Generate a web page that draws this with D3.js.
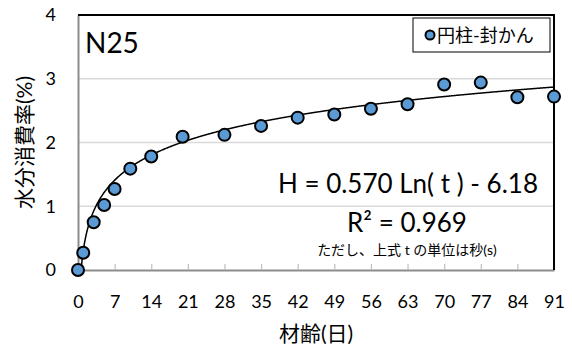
<!DOCTYPE html>
<html>
<head>
<meta charset="utf-8">
<script src="https://cdn.jsdelivr.net/npm/d3@7"></script>
<style>
  body { margin: 0; background: #fff; }
  text { font-family: "Lato", "Noto Sans CJK JP", sans-serif; fill: #000; }
</style>
</head>
<body>
<div id="chart-area"></div>
<script>
// measured points (age in days, water consumption %)
const days = [0, 1, 3, 5, 7, 10, 14, 20, 28, 35, 42, 49, 56, 63, 70, 77, 84, 91];
const values = [0, 0.27, 0.75, 1.02, 1.27, 1.59, 1.78, 2.09, 2.12, 2.26, 2.39, 2.44, 2.53, 2.60, 2.91, 2.94, 2.71, 2.72];
const xTicks = [0, 7, 14, 21, 28, 35, 42, 49, 56, 63, 70, 77, 84, 91];
const yTicks = [0, 1, 2, 3, 4];
// trendline H = a ln(t) + b, t in seconds
const fitA = 0.570, fitB = -6.18;
const seriesName = '円柱-封かん';

const svg = d3.select("#chart-area").append("svg")
    .attr("width", 572)
    .attr("height", 349);

const margin = { top: 15, right: 18, bottom: 79, left: 78 };
const width = 572 - margin.left - margin.right,
    height = 349 - margin.top - margin.bottom;

const g = svg.append("g")
    .attr("transform", `translate(${margin.left}, ${margin.top})`);

const x = d3.scaleLinear().domain([0, 91]).range([0, width]);
const y = d3.scaleLinear().domain([0, 4]).range([height, 0]);

// gridlines
g.selectAll(".grid").data(yTicks.filter(d => d > 0 && d < 4)).join("line")
    .attr("x1", 0).attr("x2", width)
    .attr("y1", d => y(d)).attr("y2", d => y(d))
    .attr("stroke", "#d9d9d9").attr("stroke-width", 1.5);

// x axis
const xAxis = g.append("g")
    .attr("transform", `translate(0, ${height})`)
    .call(d3.axisBottom(x).tickValues(xTicks).tickSizeInner(-6).tickSizeOuter(0).tickPadding(25));
xAxis.select(".domain").attr("stroke", "#8c8c8c").attr("stroke-width", 2);
xAxis.selectAll(".tick line").attr("stroke", "#bfbfbf").attr("stroke-width", 1.2);
xAxis.selectAll("text").attr("font-size", 18).style("font-family", "Lato, sans-serif");

// y axis
const yAxis = g.append("g")
    .call(d3.axisLeft(y).tickValues(yTicks).tickFormat(d3.format("d")).tickSize(0).tickPadding(22));
yAxis.select(".domain").attr("stroke", "#8c8c8c").attr("stroke-width", 2);
yAxis.selectAll("text").attr("font-size", 18).style("font-family", "Lato, sans-serif");

// top and right border
g.append("path")
    .attr("d", `M0,0H${width}V${height}`)
    .attr("fill", "none").attr("stroke", "#000").attr("stroke-width", 2);

// trendline
const tDays = d3.range(0.62, 91.01, 0.1);
const line = d3.line()
    .x(d => x(d))
    .y(d => y(fitA * Math.log(d * 86400) + fitB));
g.append("path")
    .datum(tDays)
    .attr("d", line)
    .attr("fill", "none").attr("stroke", "#000").attr("stroke-width", 1.5);

// points
g.selectAll(".pt").data(days).join("circle")
    .attr("cx", d => x(d))
    .attr("cy", (d, i) => y(values[i]))
    .attr("r", 6)
    .attr("fill", "#5b9bd5").attr("stroke", "#000").attr("stroke-width", 2);

// labels
g.append("text").attr("x", 7).attr("y", 38).attr("font-size", 28).text("N25");

g.append("text").attr("x", 460).attr("y", 178).attr("text-anchor", "end")
    .attr("font-size", 26).text("H = 0.570 Ln( t ) - 6.18");
g.append("text").attr("x", 329).attr("y", 217).attr("text-anchor", "middle")
    .attr("font-size", 26).text("R² = 0.969");
g.append("text").attr("x", 329).attr("y", 240).attr("text-anchor", "middle")
    .attr("font-size", 14).text("ただし、上式 t の単位は秒(s)");

// legend
const lg = g.append("g").attr("transform", "translate(335, 3)");
lg.append("rect").attr("width", 137).attr("height", 34)
    .attr("fill", "#fff").attr("stroke", "#000").attr("stroke-width", 1);
lg.append("circle").attr("cx", 17).attr("cy", 17).attr("r", 4.5)
    .attr("fill", "#5b9bd5").attr("stroke", "#000").attr("stroke-width", 2);
lg.append("text").attr("x", 24).attr("y", 24).attr("font-size", 18).text(seriesName);

// axis titles
svg.append("text").attr("x", margin.left + width / 2).attr("y", 341)
    .attr("text-anchor", "middle").attr("font-size", 21).text("材齢(日)");
svg.append("text")
    .attr("transform", `translate(32, ${margin.top + height / 2}) rotate(-90)`)
    .attr("text-anchor", "middle").attr("font-size", 21).text("水分消費率(%)");
</script>
</body>
</html>
